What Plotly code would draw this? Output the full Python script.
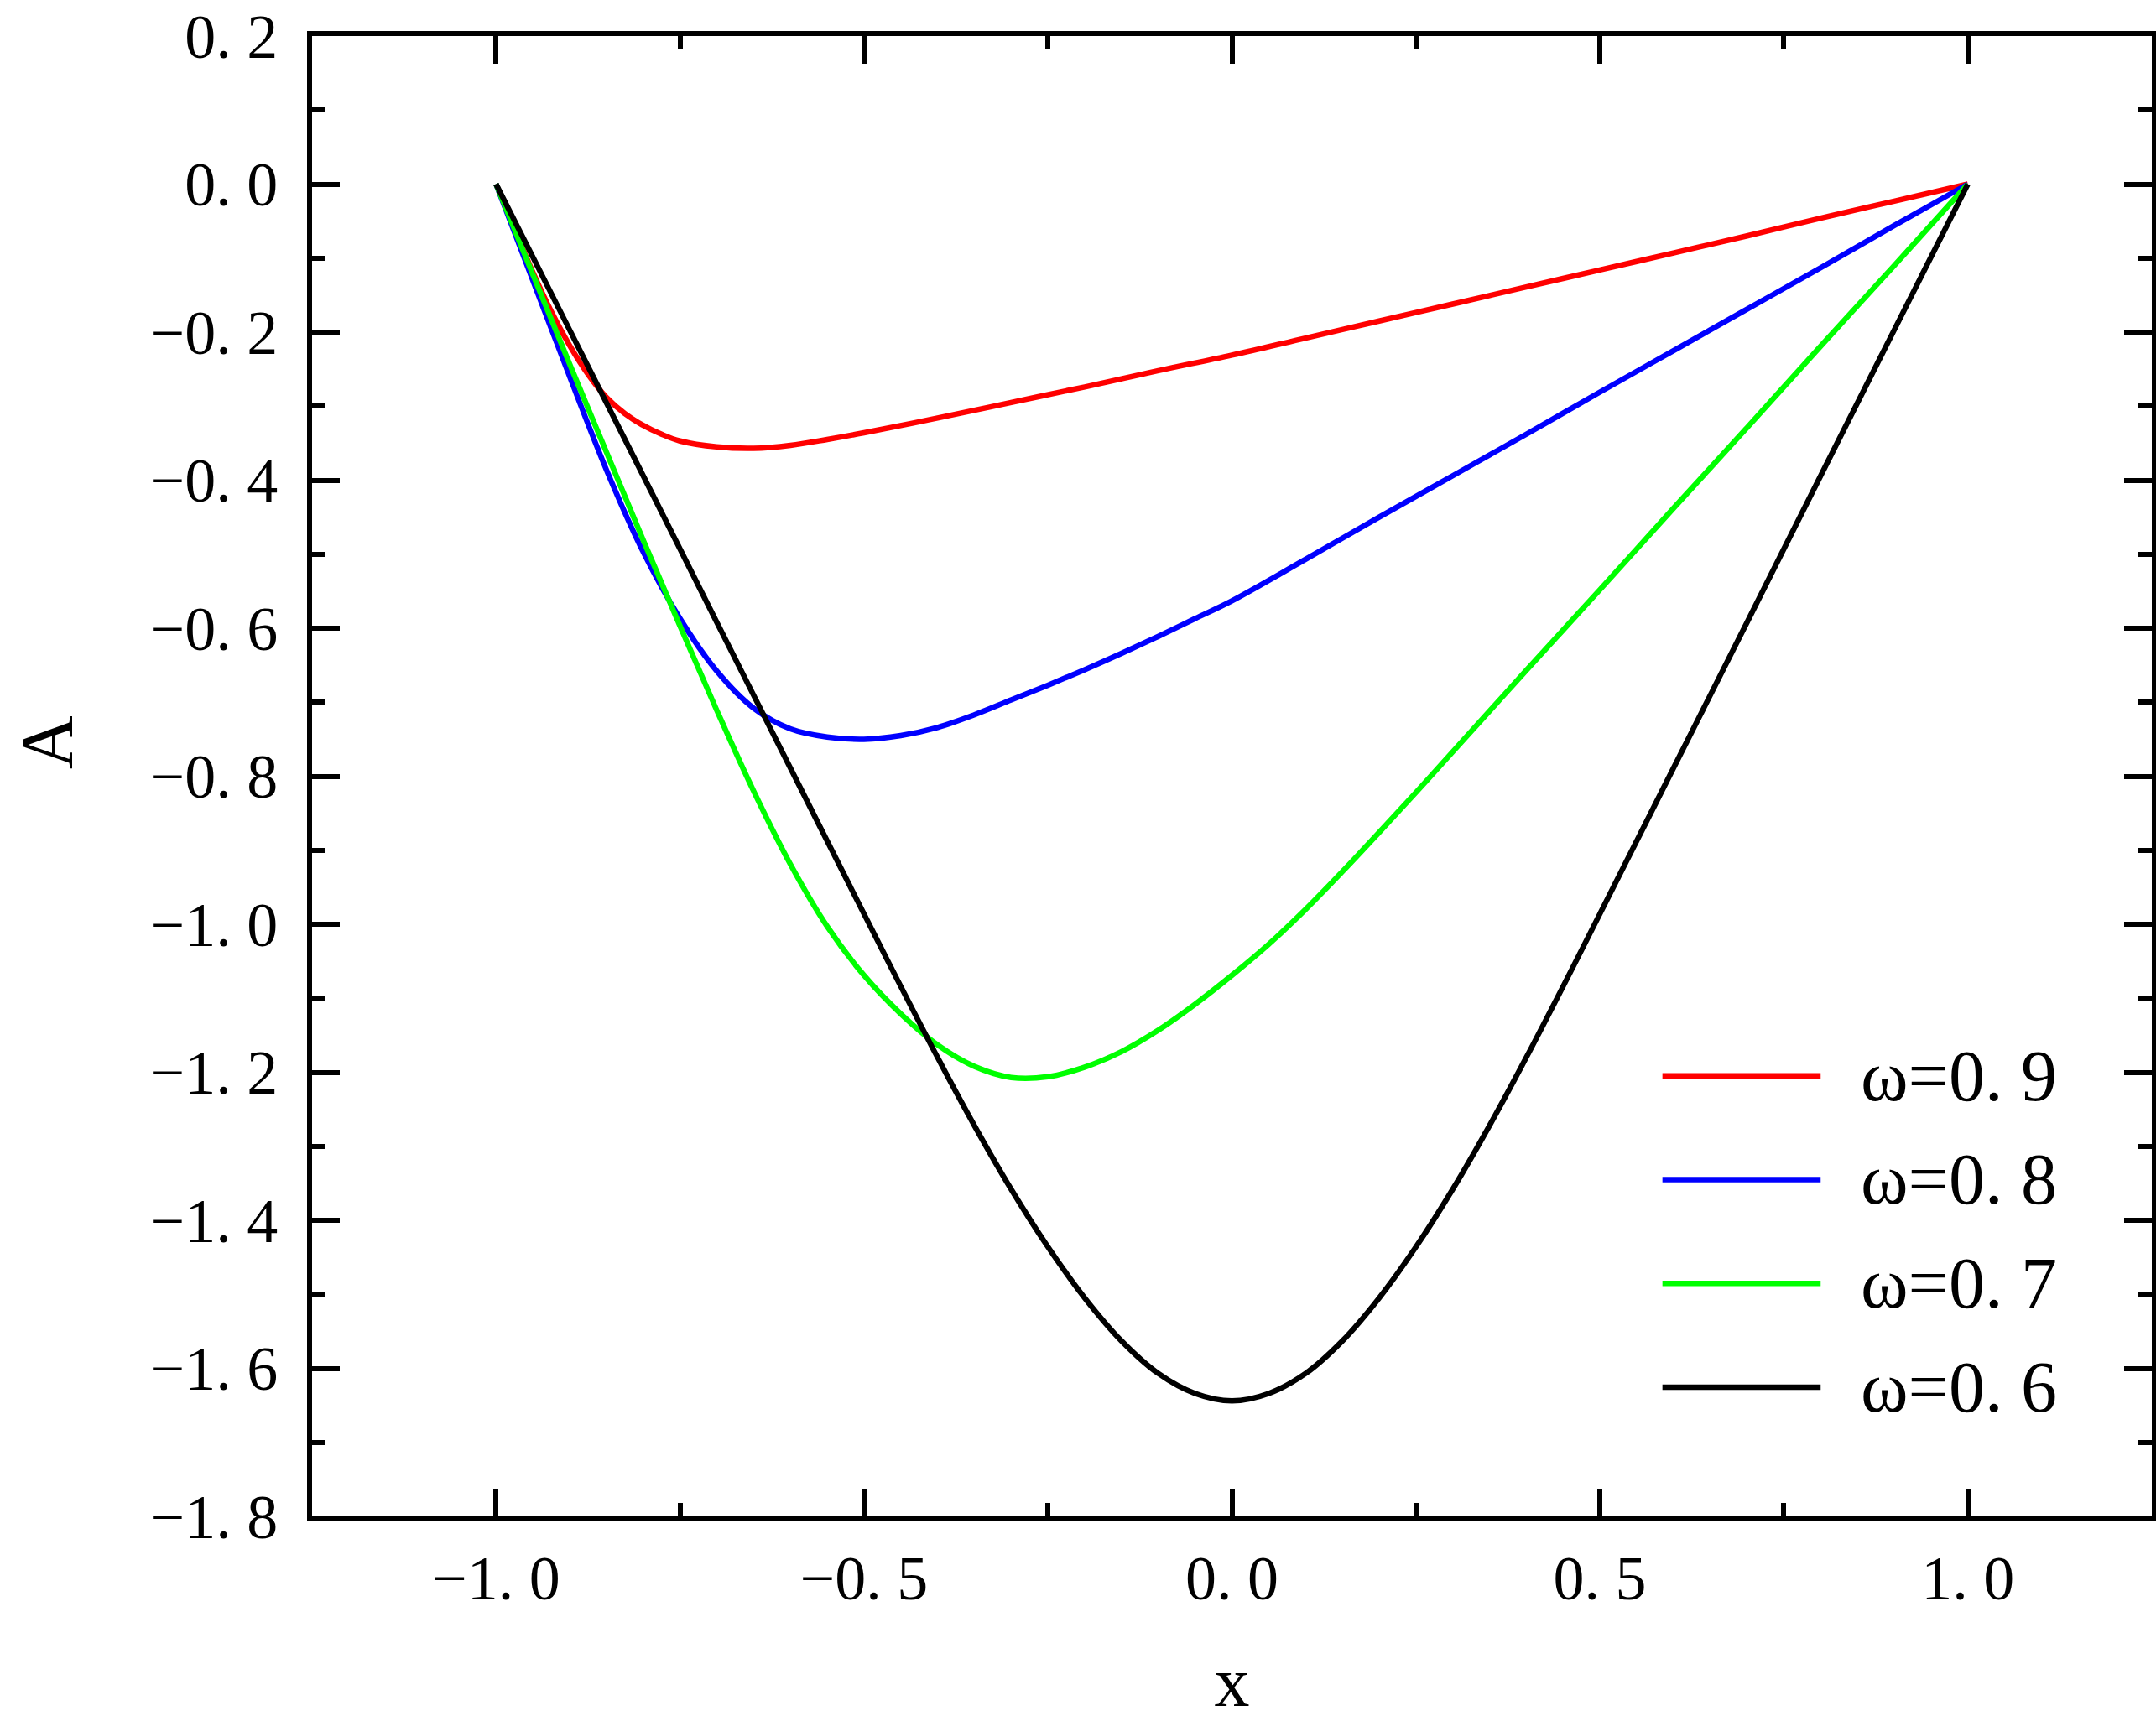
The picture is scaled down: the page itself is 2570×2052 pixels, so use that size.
import plotly.graph_objects as go

# ---- data ----
x_red = [-1.0, -0.975, -0.95, -0.925, -0.9, -0.875, -0.85, -0.825, -0.8, -0.775, -0.75, -0.7,
         -0.65, -0.6, -0.55, -0.5, -0.4, -0.3, -0.2, -0.1, 0.0, 0.1, 0.2, 0.3, 0.4, 0.5, 0.6,
         0.7, 0.8, 0.9, 1.0]
y_red = [0.0, -0.060, -0.119, -0.172, -0.218, -0.257, -0.288, -0.310, -0.326, -0.338, -0.347,
         -0.355, -0.357, -0.353, -0.345, -0.336, -0.316, -0.295, -0.274, -0.252, -0.231, -0.208,
         -0.185, -0.162, -0.139, -0.116, -0.093, -0.070, -0.046, -0.023, 0.0]

x_blue = [-1.0, -0.95, -0.9, -0.85, -0.8, -0.75, -0.7, -0.65, -0.6, -0.55, -0.5, -0.45, -0.4,
          -0.35, -0.3, -0.25, -0.2, -0.15, -0.1, -0.05, 0.0, 0.1, 0.2, 0.3, 0.4, 0.5, 0.6, 0.7,
          0.8, 0.9, 1.0]
y_blue = [0.0, -0.130, -0.260, -0.386, -0.497, -0.587, -0.658, -0.708, -0.736, -0.747, -0.750,
          -0.745, -0.734, -0.717, -0.697, -0.677, -0.656, -0.634, -0.611, -0.587, -0.563, -0.507,
          -0.450, -0.394, -0.338, -0.281, -0.225, -0.169, -0.113, -0.056, 0.0]

x_green = [-1.0, -0.95, -0.9, -0.85, -0.8, -0.75, -0.7, -0.65, -0.6, -0.55, -0.5, -0.45, -0.4,
           -0.35, -0.3, -0.25, -0.2, -0.15, -0.1, -0.05, 0.0, 0.05, 0.1, 0.15, 0.2, 0.25, 0.3,
           0.4, 0.5, 0.6, 0.7, 0.8, 0.9, 1.0]
y_green = [0.0, -0.122, -0.243, -0.362, -0.481, -0.597, -0.711, -0.820, -0.919, -1.003, -1.069,
           -1.121, -1.163, -1.192, -1.207, -1.206, -1.193, -1.172, -1.143, -1.108, -1.069,
           -1.027, -0.980, -0.929, -0.876, -0.822, -0.767, -0.657, -0.548, -0.438, -0.329,
           -0.219, -0.110, 0.0]

x_black = [-1.0, -0.9, -0.8, -0.7, -0.6, -0.5, -0.45, -0.4, -0.35, -0.3, -0.25, -0.2, -0.15,
           -0.1, -0.05, 0.0, 0.05, 0.1, 0.15, 0.2, 0.25, 0.3, 0.35, 0.4, 0.45, 0.5, 0.6, 0.7,
           0.8, 0.9, 1.0]
y_black = [0.0, -0.197, -0.394, -0.592, -0.789, -0.986, -1.084, -1.180, -1.272, -1.358, -1.436,
           -1.505, -1.563, -1.607, -1.634, -1.644, -1.634, -1.607, -1.563, -1.505, -1.436,
           -1.358, -1.272, -1.180, -1.084, -0.986, -0.789, -0.592, -0.394, -0.197, 0.0]

series_names = ["ω=0. 9", "ω=0. 8", "ω=0. 7", "ω=0. 6"]
series_colors = ["#ff0000", "#0000ff", "#00ff00", "#000000"]
series_x = [x_red, x_blue, x_green, x_black]
series_y = [y_red, y_blue, y_green, y_black]

x_tickvals = [-1.0, -0.5, 0.0, 0.5, 1.0]
x_ticktext = ["\u22121. 0", "\u22120. 5", "0. 0", "0. 5", "1. 0"]
y_tickvals = [0.2, 0.0, -0.2, -0.4, -0.6, -0.8, -1.0, -1.2, -1.4, -1.6, -1.8]
y_ticktext = ["0. 2", "0. 0", "\u22120. 2", "\u22120. 4", "\u22120. 6", "\u22120. 8",
              "\u22121. 0", "\u22121. 2", "\u22121. 4", "\u22121. 6", "\u22121. 8"]

FONT = "Liberation Serif"

fig = go.Figure()
for xs, ys, nm, col in zip(series_x, series_y, series_names, series_colors):
    fig.add_trace(go.Scatter(x=xs, y=ys, mode="lines", name=nm,
                             line=dict(color=col, width=6.5, shape="spline", smoothing=1.0),
                             showlegend=False))

# manual legend (long line samples as in the reference)
leg_x0, leg_x1, leg_tx = 0.734, 0.820, 0.841
leg_y_top, leg_step = 0.2976, 0.0701
for i, (nm, col) in enumerate(zip(series_names, series_colors)):
    yy = leg_y_top - i * leg_step
    fig.add_shape(type="line", xref="paper", yref="paper", x0=leg_x0, x1=leg_x1, y0=yy, y1=yy,
                  line=dict(color=col, width=6.5))
    fig.add_annotation(xref="paper", yref="paper", x=leg_tx, y=yy, text=nm, showarrow=False,
                       xanchor="left", yanchor="middle", font=dict(family=FONT, size=86, color="black"))

# y-axis title, placed slightly above the vertical centre as in the reference
fig.add_annotation(xref="paper", yref="paper", x=-0.1441, y=0.523, text="A", textangle=-90,
                   showarrow=False, xanchor="center", yanchor="middle",
                   font=dict(family=FONT, size=88, color="black"))

axis_common = dict(showline=True, linecolor="black", linewidth=6, mirror="ticks",
                   ticks="inside", ticklen=33, tickwidth=6, tickcolor="black",
                   showgrid=False, zeroline=False, ticklabeloverflow="allow",
                   tickfont=dict(family=FONT, size=74, color="black"))

fig.update_xaxes(range=[-1.25, 1.25], tickvals=x_tickvals, ticktext=x_ticktext,
                 minor=dict(ticks="inside", dtick=0.25, tick0=0, ticklen=16, tickwidth=6,
                            tickcolor="black"),
                 ticklabelstandoff=4,
                 title=dict(text="x", font=dict(family=FONT, size=84, color="black"), standoff=77),
                 **axis_common)
fig.update_yaxes(range=[-1.8, 0.2], tickvals=y_tickvals, ticktext=y_ticktext,
                 minor=dict(ticks="inside", dtick=0.1, tick0=0, ticklen=16, tickwidth=6,
                            tickcolor="black"),
                 ticklabelstandoff=20,
                 **axis_common)

fig.update_layout(width=2570, height=2052, plot_bgcolor="white", paper_bgcolor="white",
                  margin=dict(l=372, r=5, t=43, b=244, autoexpand=False),
                  showlegend=False)

# remove the browser's default 8px body margin so the figure fills the window exactly
fig.write_html("out.html", config={"displayModeBar": False},
               post_script="document.body.style.margin='0';")
